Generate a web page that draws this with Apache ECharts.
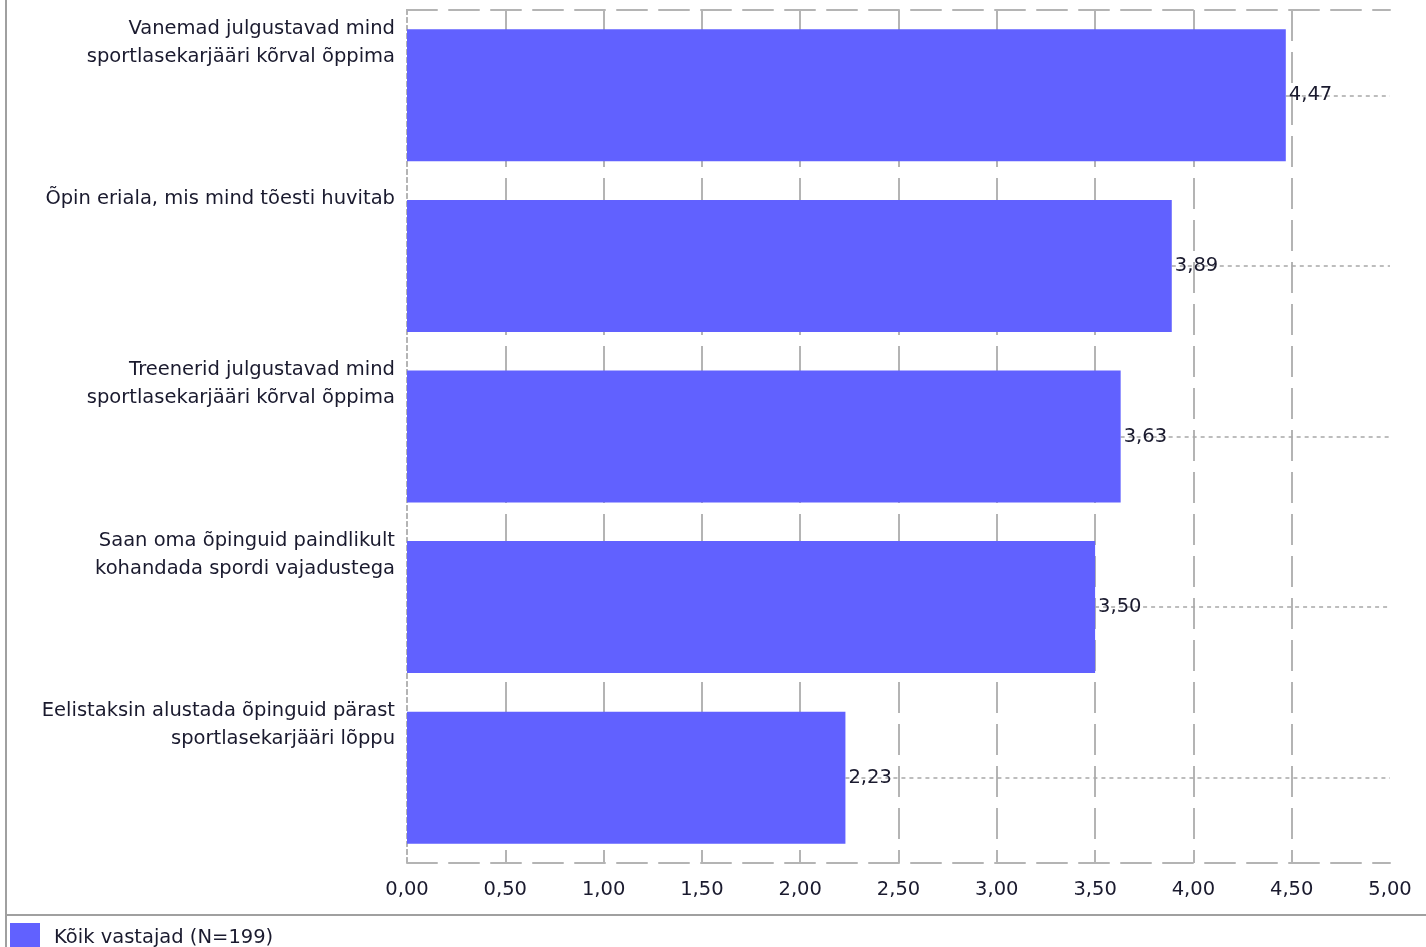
<!DOCTYPE html>
<html>
<head>
<meta charset="utf-8">
<script src="https://cdn.jsdelivr.net/npm/echarts@6/dist/echarts.min.js"></script>
<style>
html,body{margin:0;padding:0;background:#fff;}
#chart{width:1426px;height:947px;}
</style>
</head>
<body>
<div id="chart"></div>
<script>
const categories = [
  "Vanemad julgustavad mind\nsportlasekarjääri kõrval õppima",
  "Õpin eriala, mis mind tõesti huvitab",
  "Treenerid julgustavad mind\nsportlasekarjääri kõrval õppima",
  "Saan oma õpinguid paindlikult\nkohandada spordi vajadustega",
  "Eelistaksin alustada õpinguid pärast\nsportlasekarjääri lõppu"
];
const values = [4.47, 3.89, 3.63, 3.50, 2.23];
const seriesName = "Kõik vastajad (N=199)";
const xMin = 0, xMax = 5, xStep = 0.5;

const FONT = "DejaVu Sans";
const FS = 19.5;
const fmt = v => v.toFixed(2).replace('.', ',');

const nTicks = Math.round((xMax - xMin) / xStep) + 1;
const gridColors = [];
for (let i = 0; i < nTicks; i++) gridColors.push(i === 0 || i === nTicks - 1 ? 'rgba(0,0,0,0)' : '#b4b4b4');

const padLines = s => {
  const lines = s.split('\n');
  while (lines.length < 5) lines.push(' ');
  return lines.join('\n') + '\n{s| }';
};

const chart = echarts.init(document.getElementById('chart'));
chart.setOption({
  animation: false,
  textStyle: { fontFamily: FONT },
  grid: { left: 407, right: 36, top: 10, bottom: 84 },
  xAxis: [
    {
      type: 'value', min: xMin, max: xMax, interval: xStep, position: 'bottom',
      axisLine: { show: true, lineStyle: { color: '#b4b4b4', width: 2, type: [30, 12] } },
      axisTick: { show: false },
      axisLabel: { formatter: fmt, fontSize: FS, color: '#1a1a2e', margin: 17, fontFamily: FONT },
      splitLine: { show: true, lineStyle: { color: gridColors, width: 2, type: [31, 11] } }
    },
    {
      type: 'value', min: xMin, max: xMax, interval: xStep, position: 'top',
      axisLine: { show: true, lineStyle: { color: '#b4b4b4', width: 2, type: [30, 12] } },
      axisTick: { show: false }, axisLabel: { show: false }, splitLine: { show: false }
    }
  ],
  yAxis: [
    {
      type: 'category', data: categories, inverse: true, position: 'left',
      axisLine: { show: true, lineStyle: { color: '#b4b4b4', width: 2, type: [4, 4] } },
      axisTick: { show: false },
      axisLabel: {
        interval: 0, hideOverlap: false,
        formatter: padLines, fontSize: FS, lineHeight: 28, color: '#1a1a2e',
        margin: 12, align: 'right', verticalAlign: 'middle', fontFamily: FONT,
        rich: { s: { fontSize: FS, lineHeight: 21, fontFamily: FONT } }
      },
      splitLine: { show: false }
    },
    {
      type: 'category', data: categories, inverse: true, position: 'right',
      axisLine: { show: true, lineStyle: { color: '#b4b4b4', width: 2, type: [4, 4] } },
      axisTick: { show: false }, axisLabel: { show: false }, splitLine: { show: false }
    }
  ],
  legend: {
    data: [seriesName], left: 5, top: 918, icon: 'rect', itemWidth: 30, itemHeight: 30,
    textStyle: { fontSize: FS, color: '#1a1a2e', padding: [0, 0, 0, 9], fontFamily: FONT }
  },
  graphic: [
    { type: 'line', shape: { x1: 6, y1: 0, x2: 6, y2: 947 }, style: { stroke: '#a0a0a0', lineWidth: 2 }, silent: true },
    { type: 'line', shape: { x1: 6, y1: 915, x2: 1426, y2: 915 }, style: { stroke: '#a0a0a0', lineWidth: 2 }, silent: true }
  ],
  series: [
    {
      name: seriesName, type: 'bar', data: values, barCategoryGap: '22.6%',
      itemStyle: { color: '#6161ff' },
      label: {
        show: true, position: 'right', distance: 3, formatter: p => fmt(p.value),
        fontSize: FS, color: '#1a1a2e', fontFamily: FONT, padding: [4, 0, 0, 0]
      },
      markLine: {
        silent: true, symbol: 'none', label: { show: false }, z: 1,
        lineStyle: { color: '#a8a8a8', width: 1.5, type: [4, 4] },
        data: values.map((v, i) => [{ coord: [v, i] }, { coord: [xMax, i] }])
      }
    }
  ]
});
</script>
</body>
</html>
